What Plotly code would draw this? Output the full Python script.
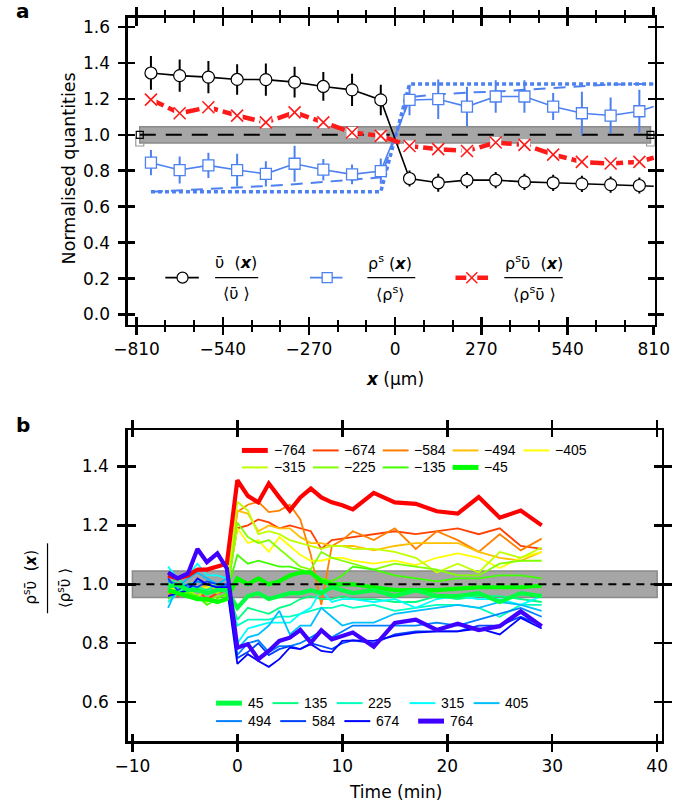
import plotly.graph_objects as go
import colorsys

W, H = 685, 804
def px(x): return x / W
def py(y): return 1 - y / H

FONT = "DejaVu Sans"
FONT2 = "Liberation Sans"

# ---------------- panel a data ----------------
x_um = [-765, -675, -585, -495, -405, -315, -225, -135, -45,
        45, 135, 225, 315, 405, 495, 585, 675, 765]
x_edge = 810
v_norm = [1.344, 1.329, 1.321, 1.308, 1.307, 1.293, 1.269, 1.250, 1.194,
          0.757, 0.733, 0.748, 0.748, 0.738, 0.733, 0.727, 0.723, 0.718]
v_edge = 0.714
v_err = [0.094, 0.09, 0.09, 0.085, 0.09, 0.085, 0.08, 0.09, 0.085,
         0.045, 0.05, 0.045, 0.045, 0.045, 0.045, 0.045, 0.045, 0.045]
rho_norm = [0.845, 0.804, 0.830, 0.804, 0.783, 0.839, 0.806, 0.780, 0.798,
            1.194, 1.198, 1.157, 1.213, 1.213, 1.157, 1.120, 1.107, 1.131]
rho_edge = 1.157
rho_err = [0.07, 0.075, 0.07, 0.09, 0.07, 0.10, 0.06, 0.055, 0.07,
           0.085, 0.11, 0.11, 0.09, 0.09, 0.075, 0.12, 0.10, 0.12]
flux_norm = [1.196, 1.120, 1.153, 1.107, 1.069, 1.125, 1.069, 1.013, 0.994,
             0.938, 0.920, 0.910, 0.957, 0.944, 0.890, 0.849, 0.840, 0.849]
flux_edge = 0.873
rho_dashed = [0.683, 0.690, 0.697, 0.705, 0.715, 0.725, 0.737, 0.750, 0.763,
              1.210, 1.225, 1.235, 1.240, 1.250, 1.260, 1.270, 1.280, 1.283]
rho_dashed_edge = 1.283
rho_dotted = [0.683, 0.683, 0.683, 0.683, 0.683, 0.683, 0.683, 0.683, 0.683,
              1.283, 1.283, 1.283, 1.283, 1.283, 1.283, 1.283, 1.283, 1.283]
rho_dotted_edge = 1.283
ref_x_a = [-800, 800]
ref_y = [1.0, 1.0]
band_x_a = [-800, 800]
band_y = [0.955, 1.045]

x_ticks_a = [-810, -540, -270, 0, 270, 540, 810]

# ---------------- panel b data ----------------
time_min = [-6.6, -5.7, -4.7, -3.8, -2.9, -1.9, -1.0,
            0, 1, 2, 3, 4, 5, 6, 7, 8, 9, 10, 11, 13, 15, 17, 19, 21, 23, 25, 27, 29]
positions = [-764, -674, -584, -494, -405, -315, -225, -135, -45,
             45, 135, 225, 315, 405, 494, 584, 674, 764]
series_b = {
    -764: [1.03, 1.02, 1.03, 1.05, 1.05, 1.06, 1.07,
           1.353, 1.30, 1.278, 1.342, 1.295, 1.25, 1.295, 1.325, 1.295, 1.278, 1.268, 1.254,
           1.31, 1.278, 1.273, 1.248, 1.24, 1.296, 1.226, 1.25, 1.20],
    -674: [0.97, 0.96, 0.97, 0.98, 0.95, 0.97, 0.98,
           1.19, 1.20, 1.22, 1.21, 1.19, 1.20, 1.19, 1.18, 1.12, 1.15, 1.155, 1.16,
           1.17, 1.18, 1.17, 1.18, 1.19, 1.17, 1.19, 1.13, 1.12],
    -584: [1.0, 0.99, 0.97, 0.96, 0.98, 0.97, 0.99,
           1.245, 1.27, 1.28, 1.245, 1.25, 1.27, 1.22, 1.10, 0.93, 1.13, 1.15, 1.18,
           1.15, 1.19, 1.12, 1.18, 1.15, 1.11, 1.17, 1.115, 1.155],
    -494: [0.98, 0.97, 0.99, 0.98, 1.0, 0.98, 0.99,
           1.25, 1.24, 1.18, 1.20, 1.19, 1.19, 1.16, 1.14, 1.14, 1.13, 1.13, 1.13,
           1.115, 1.13, 1.14, 1.14, 1.14, 1.11, 1.09, 1.08, 1.11],
    -405: [0.99, 0.98, 0.97, 0.98, 0.99, 1.0, 0.99,
           1.19, 1.14, 1.15, 1.11, 1.16, 1.13, 1.10, 1.08, 1.08, 1.09, 1.09, 1.08,
           1.07, 1.08, 1.065, 1.09, 1.105, 1.09, 1.055, 1.09, 1.11],
    -315: [1.0, 0.99, 0.98, 0.96, 0.98, 0.97, 0.99,
           1.28, 1.25, 1.17, 1.18, 1.17, 1.15, 1.14, 1.13, 1.12, 1.13, 1.13, 1.12,
           1.12, 1.11, 1.09, 1.04, 1.07, 1.04, 1.11, 1.09, 1.125],
    -225: [0.97, 0.99, 0.97, 0.95, 0.94, 0.96, 0.96,
           1.21, 1.16, 1.14, 1.15, 1.12, 1.09, 1.06, 1.05, 1.11, 1.09, 1.08, 1.07,
           1.05, 1.07, 1.06, 1.05, 1.03, 1.03, 1.07, 1.08, 1.08],
    -135: [0.95, 0.98, 0.97, 0.96, 0.93, 0.95, 0.97,
           1.10, 1.07, 1.08, 1.07, 1.06, 1.06, 1.05, 1.04, 1.02, 1.01, 1.03, 1.06,
           1.05, 1.03, 1.02, 1.01, 1.02, 1.02, 1.03, 1.03, 1.02],
    -45: [0.98, 0.97, 0.96, 0.95, 0.95, 0.94, 0.95,
          1.02, 1.00, 1.02, 1.00, 1.01, 1.03, 1.04, 1.04, 1.01, 1.00, 1.00, 1.00,
          0.99, 0.98, 0.98, 0.98, 0.985, 0.99, 0.99, 0.99, 0.995],
    45: [0.99, 1.0, 0.98, 0.98, 0.97, 0.98, 0.98,
         0.92, 0.96, 0.97, 0.95, 0.96, 0.97, 0.97, 0.98, 0.97, 0.99, 0.98, 0.97,
         0.98, 0.96, 0.98, 0.96, 0.96, 0.97, 0.94, 0.97, 0.96],
    135: [1.0, 1.02, 0.99, 0.99, 0.98, 1.0, 0.99,
          0.88, 0.92, 0.91, 0.90, 0.92, 0.93, 0.95, 0.96, 0.95, 0.95, 0.96, 0.95,
          0.95, 0.94, 0.94, 0.96, 0.95, 0.96, 0.96, 0.95, 0.94],
    225: [0.94, 0.97, 1.0, 1.01, 1.0, 0.99, 0.99,
          0.86, 0.88, 0.88, 0.88, 0.89, 0.89, 0.90, 0.91, 0.92, 0.92, 0.93, 0.92,
          0.93, 0.91, 0.92, 0.93, 0.93, 0.92, 0.89, 0.93, 0.93],
    315: [1.06, 1.02, 1.03, 1.07, 1.03, 1.03, 1.02,
          0.80, 0.85, 0.86, 0.87, 0.87, 0.87, 0.90, 0.92, 0.98, 0.94, 0.95, 0.95,
          0.94, 0.95, 0.92, 0.95, 0.96, 0.95, 0.95, 0.93, 0.96],
    405: [0.92, 0.99, 1.02, 1.04, 1.02, 1.0, 1.02,
          0.78, 0.82, 0.83, 0.86, 0.91, 0.83, 0.86, 0.86, 0.92, 0.89, 0.86, 0.87,
          0.87, 0.90, 0.91, 0.92, 0.93, 0.92, 0.94, 0.93, 0.91],
    494: [1.01, 1.0, 0.99, 1.01, 1.0, 0.99, 1.0,
          0.76, 0.80, 0.81, 0.77, 0.79, 0.79, 0.80, 0.82, 0.84, 0.82, 0.84, 0.86,
          0.86, 0.86, 0.86, 0.87, 0.86, 0.88, 0.90, 0.92, 0.89],
    584: [1.02, 0.98, 1.0, 0.99, 1.01, 1.0, 1.0,
          0.75, 0.77, 0.80, 0.76, 0.78, 0.79, 0.78, 0.80, 0.79, 0.78, 0.80, 0.81,
          0.80, 0.83, 0.84, 0.84, 0.84, 0.86, 0.86, 0.89, 0.86],
    674: [0.96, 0.97, 0.98, 1.02, 1.0, 0.99, 0.99,
          0.73, 0.763, 0.74, 0.72, 0.746, 0.785, 0.78, 0.797, 0.774, 0.769, 0.808, 0.81,
          0.808, 0.825, 0.836, 0.84, 0.84, 0.85, 0.83, 0.886, 0.85],
    764: [1.04, 1.02, 1.037, 1.12, 1.075, 1.105, 1.054,
          0.785, 0.797, 0.746, 0.774, 0.808, 0.819, 0.845, 0.802, 0.844, 0.813, 0.825, 0.836,
          0.788, 0.869, 0.88, 0.845, 0.866, 0.845, 0.858, 0.908, 0.858],
}
thick_positions = [-45, 45, -764, 764]
band_x_b = [-10, 40]
ref_x_b = [-10, 40]
x_ticks_b = [-10, 0, 10, 20, 30, 40]

BLUE = "#4d80f0"
RED = "#ff1a1a"

def hue_color(i):
    r, g, b = colorsys.hsv_to_rgb((i * 15) / 360.0, 1.0, 1.0)
    return "rgb(%d,%d,%d)" % (round(r * 255), round(g * 255), round(b * 255))

colors_b = {p: hue_color(i) for i, p in enumerate(positions)}

fig = go.Figure()

# ---------------- panel a ----------------
fig.add_shape(type="rect", xref="x", yref="y", x0=band_x_a[0], x1=band_x_a[1],
              y0=band_y[0], y1=band_y[1], fillcolor="#a6a6a6",
              line=dict(color="#8a8a8a", width=1.5), layer="below")
fig.add_trace(go.Scatter(x=band_x_a, y=[band_y[0] + 0.005] * 2, mode="markers",
                         marker=dict(symbol="square-open", size=8, color="#9a9a9a",
                                     line=dict(width=1.2)),
                         xaxis="x", yaxis="y", hoverinfo="skip"))
fig.add_trace(go.Scatter(x=ref_x_a, y=ref_y, mode="lines+markers",
                         line=dict(color="black", width=2, dash="16px,10px"),
                         marker=dict(symbol="square-open", size=7, color="black",
                                     line=dict(width=1.2)),
                         xaxis="x", yaxis="y", hoverinfo="skip"))
fig.add_trace(go.Scatter(x=x_um + [x_edge], y=rho_dotted + [rho_dotted_edge], mode="lines",
                         line=dict(color=BLUE, width=3.5, dash="4px,3px"),
                         xaxis="x", yaxis="y"))
fig.add_trace(go.Scatter(x=x_um + [x_edge], y=rho_dashed + [rho_dashed_edge], mode="lines",
                         line=dict(color=BLUE, width=2, dash="12px,8px"),
                         xaxis="x", yaxis="y"))
fig.add_trace(go.Scatter(x=x_um + [x_edge], y=rho_norm + [rho_edge], mode="lines",
                         line=dict(color=BLUE, width=1.6), xaxis="x", yaxis="y"))
fig.add_trace(go.Scatter(x=x_um, y=rho_norm, mode="markers",
                         marker=dict(symbol="square", size=11, color="white",
                                     line=dict(color=BLUE, width=1.3)),
                         error_y=dict(type="data", array=rho_err, color=BLUE,
                                      thickness=2, width=0),
                         xaxis="x", yaxis="y"))
fig.add_trace(go.Scatter(x=x_um + [x_edge], y=v_norm + [v_edge], mode="lines",
                         line=dict(color="black", width=1.6), xaxis="x", yaxis="y"))
fig.add_trace(go.Scatter(x=x_um, y=v_norm, mode="markers",
                         marker=dict(symbol="circle", size=12, color="white",
                                     line=dict(color="black", width=1.2)),
                         error_y=dict(type="data", array=v_err, color="black",
                                      thickness=2, width=0),
                         xaxis="x", yaxis="y"))
fig.add_trace(go.Scatter(x=x_um + [x_edge], y=flux_norm + [flux_edge], mode="lines",
                         line=dict(color=RED, width=4.5, dash="14px,5px"),
                         xaxis="x", yaxis="y"))
fig.add_trace(go.Scatter(x=x_um, y=flux_norm, mode="markers",
                         marker=dict(symbol="square", size=11, color="white",
                                     line=dict(width=0)),
                         xaxis="x", yaxis="y"))
fig.add_trace(go.Scatter(x=x_um, y=flux_norm, mode="markers",
                         marker=dict(symbol="x-thin", size=12,
                                     line=dict(color=RED, width=1.6)),
                         xaxis="x", yaxis="y"))
fig.add_trace(go.Scatter(x=[None], y=[None], xaxis="x3", yaxis="y3", hoverinfo="skip"))

# ---------------- panel b ----------------
fig.add_shape(type="rect", xref="x2", yref="y2", x0=band_x_b[0], x1=band_x_b[1],
              y0=band_y[0], y1=band_y[1], fillcolor="#a6a6a6",
              line=dict(color="#8a8a8a", width=1.5), layer="below")
for p in positions:
    if p in thick_positions:
        continue
    fig.add_trace(go.Scatter(x=time_min, y=series_b[p], mode="lines",
                             line=dict(color=colors_b[p], width=1.8),
                             xaxis="x2", yaxis="y2"))
for p in thick_positions:
    fig.add_trace(go.Scatter(x=time_min, y=series_b[p], mode="lines",
                             line=dict(color=colors_b[p], width=4.2),
                             xaxis="x2", yaxis="y2"))
fig.add_trace(go.Scatter(x=ref_x_b, y=ref_y, mode="lines",
                         line=dict(color="black", width=2, dash="8px,6px"),
                         xaxis="x2", yaxis="y2"))
fig.add_trace(go.Scatter(x=[None], y=[None], xaxis="x4", yaxis="y4", hoverinfo="skip"))

# ---------------- axes ----------------
tickfont = dict(family=FONT, size=17, color="black")
common = dict(showgrid=False, zeroline=False, showline=True, linecolor="black",
              linewidth=2.5, ticks="outside", tickcolor="black", tickwidth=2.5,
              mirror="ticks", tickfont=tickfont)
inner = dict(showgrid=False, zeroline=False, showline=False, ticks="inside",
             tickcolor="black", tickwidth=2.5, mirror="ticks", showticklabels=False)

xa_dom = [px(119), px(669)]
ya_dom = [py(324), py(17)]
xa_rng = [-837, 813]
ya_rng = [-0.056, 1.65]
xb_dom = [px(118.8), px(676.3)]
yb_dom = [py(741), py(430)]
xb_rng = [-10.44, 40.43]
yb_rng = [0.468, 1.522]

fig.update_layout(
    xaxis=dict(domain=xa_dom, range=xa_rng, anchor="y", tickmode="array",
               tickvals=x_ticks_a, ticklen=8, ticklabelstandoff=0,
               minor=dict(tickmode="linear", tick0=-810, dtick=90, ticks="outside",
                          ticklen=5, tickwidth=2, tickcolor="black", showgrid=False),
               **common),
    yaxis=dict(domain=ya_dom, range=ya_rng, anchor="x", tick0=0, dtick=0.2,
               tickformat=".1f", ticklen=7, ticklabelstandoff=5, **common),
    xaxis3=dict(overlaying="x", anchor="y3", range=xa_rng, tickmode="array",
                tickvals=x_ticks_a, ticklen=8,
                minor=dict(tickmode="linear", tick0=-810, dtick=90, ticks="inside",
                           ticklen=5, tickwidth=2, tickcolor="black", showgrid=False),
                **inner),
    yaxis3=dict(overlaying="y", anchor="x3", range=ya_rng, tick0=0, dtick=0.2,
                ticklen=7, **inner),
    xaxis2=dict(domain=xb_dom, range=xb_rng, anchor="y2", tickmode="array",
                tickvals=x_ticks_b, ticklen=8, ticklabelstandoff=0, **common),
    yaxis2=dict(domain=yb_dom, range=yb_rng, anchor="x2", tick0=0.6, dtick=0.2,
                tickformat=".1f", ticklen=8, ticklabelstandoff=5, **common),
    xaxis4=dict(overlaying="x2", anchor="y4", range=xb_rng, tickmode="array",
                tickvals=x_ticks_b, ticklen=7, **inner),
    yaxis4=dict(overlaying="y2", anchor="x4", range=yb_rng, tick0=0.6, dtick=0.2,
                ticklen=8, **inner),
)

# ---------------- annotations / legends ----------------
ann = []
shapes = []

def text(x, y, s, size=17, angle=0, xanchor="center", family=FONT):
    ann.append(dict(x=px(x), y=py(y), xref="paper", yref="paper", text=s,
                    showarrow=False, xanchor=xanchor, yanchor="middle",
                    textangle=angle, font=dict(family=family, size=size, color="black")))

def hline(x0, x1, y, color="black", width=1.5):
    shapes.append(dict(type="line", xref="paper", yref="paper", x0=px(x0), x1=px(x1),
                       y0=py(y), y1=py(y), line=dict(color=color, width=width)))

text(9, 10, "<b>a</b>", size=20)
text(9, 425, "<b>b</b>", size=20)
text(398, 378, "<b><i>x</i></b> (µm)")
text(57, 168, "Normalised quantities", size=17.5, angle=-90)
text(398, 792, "Time (min)")

# panel a legend
LY = 277
hline(158, 193, LY, "black", 1.6)
shapes.append(dict(type="circle", xref="paper", yref="paper", xsizemode="pixel",
                   ysizemode="pixel", xanchor=px(176), yanchor=py(LY),
                   x0=-5.5, x1=5.5, y0=-5.5, y1=5.5, fillcolor="white",
                   line=dict(color="black", width=1.2)))
hline(309, 343, LY, BLUE, 1.6)
shapes.append(dict(type="rect", xref="paper", yref="paper", xsizemode="pixel",
                   ysizemode="pixel", xanchor=px(327), yanchor=py(LY),
                   x0=-5, x1=5, y0=-5, y1=5, fillcolor="white",
                   line=dict(color=BLUE, width=1.3)))
hline(461, 495, LY, RED, 4.5)
shapes.append(dict(type="rect", xref="paper", yref="paper", xsizemode="pixel",
                   ysizemode="pixel", xanchor=px(478), yanchor=py(LY),
                   x0=-5.5, x1=5.5, y0=-5.5, y1=5.5, fillcolor="white",
                   line=dict(width=0)))
for sgn in (1, -1):
    shapes.append(dict(type="line", xref="paper", yref="paper", xsizemode="pixel",
                       ysizemode="pixel", xanchor=px(478), yanchor=py(LY),
                       x0=-5.5, x1=5.5, y0=-5.5 * sgn, y1=5.5 * sgn,
                       line=dict(color=RED, width=1.5)))
for cx, x0, x1, num, den in [
        (232, 210, 255, "ῡ  (<b><i>x</i></b>)", "⟨ῡ ⟩"),
        (393, 369, 419, "ρ<sup>s</sup> (<b><i>x</i></b>)", "⟨ρ<sup>s</sup>⟩"),
        (543, 512, 573, "ρ<sup>s</sup>ῡ  (<b><i>x</i></b>)", "⟨ρ<sup>s</sup>ῡ ⟩")]:
    text(cx, 262, num, size=16)
    hline(x0, x1, LY, "black", 1.2)
    text(cx, 293, den, size=16)

# panel b y-title (rotated fraction)
text(17, 577, "ρ<sup>s</sup>ῡ  (<b><i>x</i></b>)", size=15, angle=-90)
shapes.append(dict(type="line", xref="paper", yref="paper", x0=px(35), x1=px(35),
                   y0=py(543), y1=py(613), line=dict(color="black", width=1.2)))
text(52, 588, "⟨ρ<sup>s</sup>ῡ ⟩", size=15, angle=-90)

# panel b legends
def lab(p):
    return str(p).replace("-", "\u2212")

top_rows = [(450, [-764, -674, -584, -494, -405], [238, 312, 385, 458, 532]),
            (467, [-315, -225, -135, -45], [238, 312, 385, 458])]
bot_rows = [(703, [45, 135, 225, 315, 405], [211, 270, 337, 413, 480]),
            (721, [494, 584, 674, 764], [211, 278, 345, 422])]
for yrow, plist, xs in top_rows + bot_rows:
    for p, xs0 in zip(plist, xs):
        w = 5 if p in thick_positions else 2
        hline(xs0, xs0 + 27, yrow, colors_b[p], w)
        text(xs0 + 31, yrow, lab(p), size=14, xanchor="left", family=FONT2)

fig.update_layout(annotations=ann, shapes=list(fig.layout.shapes) + shapes)

fig.update_layout(width=W, height=H, margin=dict(l=0, r=0, t=0, b=0),
                  plot_bgcolor="white", paper_bgcolor="white", showlegend=False,
                  hovermode=False, font=dict(family=FONT, color="black"))

fig.write_html("out.html", config={"displayModeBar": False, "staticPlot": True})

# remove default page margins so the figure sits at the window origin
with open("out.html", "r", encoding="utf-8") as f:
    html = f.read()
html = html.replace("<head>", "<head><style>html,body{margin:0;padding:0;overflow:hidden;}</style>", 1)
with open("out.html", "w", encoding="utf-8") as f:
    f.write(html)
